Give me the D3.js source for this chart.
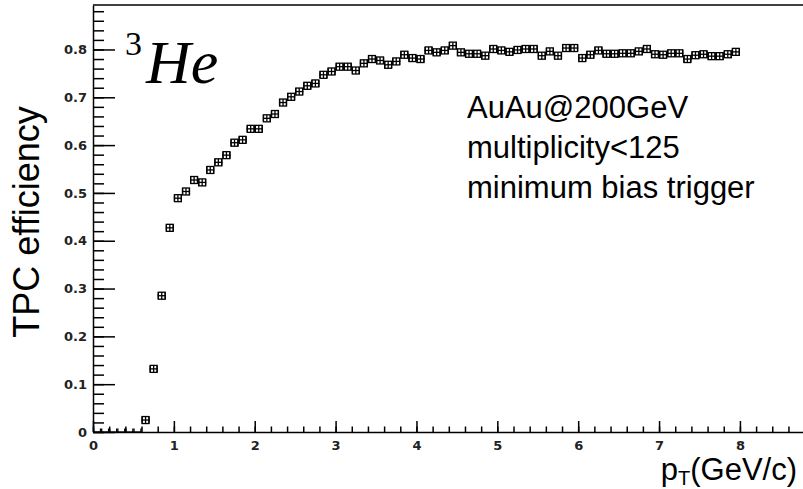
<!DOCTYPE html>
<html>
<head>
<meta charset="utf-8">
<script src="https://cdn.jsdelivr.net/npm/d3@7"></script>
<style>
  body { margin: 0; background: #fff; }
</style>
</head>
<body>
<div id="chart"></div>
<script>
// bin low edges in pT (GeV/c), bin width 0.1
const ptLow = [
  0.0, 0.1, 0.2, 0.3, 0.4, 0.5, 0.6, 0.7, 0.8, 0.9,
  1.0, 1.1, 1.2, 1.3, 1.4, 1.5, 1.6, 1.7, 1.8, 1.9,
  2.0, 2.1, 2.2, 2.3, 2.4, 2.5, 2.6, 2.7, 2.8, 2.9,
  3.0, 3.1, 3.2, 3.3, 3.4, 3.5, 3.6, 3.7, 3.8, 3.9,
  4.0, 4.1, 4.2, 4.3, 4.4, 4.5, 4.6, 4.7, 4.8, 4.9,
  5.0, 5.1, 5.2, 5.3, 5.4, 5.5, 5.6, 5.7, 5.8, 5.9,
  6.0, 6.1, 6.2, 6.3, 6.4, 6.5, 6.6, 6.7, 6.8, 6.9,
  7.0, 7.1, 7.2, 7.3, 7.4, 7.5, 7.6, 7.7, 7.8, 7.9
];
const binWidth = 0.1;

const efficiency = [
  0, 0, 0, 0, 0, 0, 0.025, 0.132, 0.285, 0.427,
  0.489, 0.503, 0.527, 0.522, 0.548, 0.564, 0.579, 0.605, 0.611, 0.634,
  0.634, 0.656, 0.665, 0.689, 0.701, 0.712, 0.724, 0.729, 0.747, 0.754,
  0.764, 0.764, 0.756, 0.771, 0.780, 0.777, 0.768, 0.775, 0.789, 0.782,
  0.780, 0.798, 0.794, 0.798, 0.808, 0.794, 0.791, 0.791, 0.787, 0.801,
  0.798, 0.795, 0.799, 0.801, 0.801, 0.787, 0.796, 0.787, 0.803, 0.803,
  0.782, 0.789, 0.798, 0.791, 0.791, 0.792, 0.792, 0.796, 0.801, 0.790,
  0.789, 0.792, 0.792, 0.780, 0.788, 0.790, 0.786, 0.786, 0.790, 0.795
];

const xTicks = [0, 1, 2, 3, 4, 5, 6, 7, 8];
const yTicks = [0, 0.1, 0.2, 0.3, 0.4, 0.5, 0.6, 0.7, 0.8];
const infoLines = ['AuAu@200GeV', 'multiplicity<125', 'minimum bias trigger'];

function draw(){
    let dimensions = {
        width: 803,
        height: 489,
        margin: { top: 5, bottom: 57, left: 93, right: 0 }
    }
    dimensions.ctrBottom = dimensions.height - dimensions.margin.bottom

    const svg = d3.select('#chart')
      .append('svg')
      .attr('width', dimensions.width)
      .attr('height', dimensions.height)
      .style('display', 'block')

    svg.append('rect')
      .attr('width', dimensions.width)
      .attr('height', dimensions.height)
      .attr('fill', '#fff')

    const xScale = d3.scaleLinear()
      .domain([0, 8.78])
      .range([dimensions.margin.left, dimensions.width])

    const yScale = d3.scaleLinear()
      .domain([0, 0.893])
      .range([dimensions.ctrBottom, dimensions.margin.top])

    // minor ticks
    const xMinor = d3.range(0, 8.78, 0.2)
    const yMinor = d3.range(0, 0.893, 0.02)

    svg.append('g')
      .attr('transform', `translate(0, ${dimensions.ctrBottom})`)
      .call(d3.axisBottom(xScale).tickValues(xMinor).tickSize(-5.5).tickSizeOuter(0).tickFormat(''))
      .call(g => g.select('.domain').remove())

    svg.append('g')
      .attr('transform', `translate(${dimensions.margin.left}, 0)`)
      .call(d3.axisLeft(yScale).tickValues(yMinor).tickSize(-11).tickSizeOuter(0).tickFormat(''))
      .call(g => g.select('.domain').remove())

    // major axes
    svg.append('g')
      .attr('transform', `translate(0, ${dimensions.ctrBottom})`)
      .call(d3.axisBottom(xScale).tickValues(xTicks).tickSize(-11).tickSizeOuter(0).tickPadding(9))

    svg.append('g')
      .attr('transform', `translate(${dimensions.margin.left}, 0)`)
      .call(d3.axisLeft(yScale).tickValues(yTicks).tickSize(-22).tickSizeOuter(0).tickPadding(6)
        .tickFormat(d => d === 0 ? '0' : d3.format('.1f')(d)))

    svg.selectAll('.tick line, .domain')
      .attr('stroke', '#000')
      .attr('stroke-width', 1.5)

    svg.selectAll('.tick text')
      .attr('font-family', 'DejaVu Sans')
      .attr('font-weight', 'bold')
      .attr('font-size', 13)
      .attr('fill', '#222')

    // top frame
    svg.append('line')
      .attr('x1', dimensions.margin.left)
      .attr('x2', dimensions.width)
      .attr('y1', dimensions.margin.top)
      .attr('y2', dimensions.margin.top)
      .attr('stroke', '#000')
      .attr('stroke-width', 1.5)

    // data
    svg.append('clipPath').attr('id', 'frame')
      .append('rect')
      .attr('x', dimensions.margin.left)
      .attr('y', dimensions.margin.top)
      .attr('width', dimensions.width - dimensions.margin.left)
      .attr('height', dimensions.ctrBottom - dimensions.margin.top)

    const bins = ptLow.map((d, i) => ({ lo: d, hi: d + binWidth, eff: efficiency[i] }))
    const half = 3.5

    const pts = svg.append('g')
      .attr('clip-path', 'url(#frame)')
      .attr('stroke', '#000')
      .attr('stroke-width', 1.3)
      .attr('fill', 'none')
      .selectAll('g')
      .data(bins)
      .join('g')

    pts.append('line')
      .attr('x1', d => xScale(d.lo))
      .attr('x2', d => xScale(d.hi))
      .attr('y1', d => yScale(d.eff))
      .attr('y2', d => yScale(d.eff))

    pts.append('line')
      .attr('x1', d => xScale(d.lo) + 0.6)
      .attr('x2', d => xScale(d.lo) + 0.6)
      .attr('y1', d => yScale(d.eff) - half)
      .attr('y2', d => yScale(d.eff) + half)

    pts.append('line')
      .attr('x1', d => xScale(d.hi) - 0.6)
      .attr('x2', d => xScale(d.hi) - 0.6)
      .attr('y1', d => yScale(d.eff) - half)
      .attr('y2', d => yScale(d.eff) + half)

    const filled = pts.filter(d => d.eff > 0)

    filled.append('rect')
      .attr('x', d => xScale(d.lo) + 0.6)
      .attr('width', d => xScale(d.hi) - xScale(d.lo) - 1.2)
      .attr('y', d => yScale(d.eff) - half)
      .attr('height', half * 2)

    filled.append('line')
      .attr('x1', d => xScale(d.lo + binWidth / 2))
      .attr('x2', d => xScale(d.lo + binWidth / 2))
      .attr('y1', d => yScale(d.eff) - half)
      .attr('y2', d => yScale(d.eff) + half)

    // labels
    svg.append('text')
      .attr('transform', 'translate(39, 222) rotate(-90)')
      .attr('text-anchor', 'middle')
      .attr('font-family', 'Liberation Sans')
      .attr('font-size', 36)
      .text('TPC efficiency')

    const xTitle = svg.append('text')
      .attr('x', 797)
      .attr('y', 480)
      .attr('text-anchor', 'end')
      .attr('font-family', 'Liberation Sans')
      .attr('font-size', 31)
    xTitle.append('tspan').text('p')
    xTitle.append('tspan').attr('font-size', 20).attr('dy', 5).text('T')
    xTitle.append('tspan').attr('dy', -5).text('(GeV/c)')

    svg.append('text')
      .attr('x', 125)
      .attr('y', 55)
      .attr('font-family', 'Liberation Serif')
      .attr('font-size', 34)
      .text('3')

    svg.append('text')
      .attr('x', 146)
      .attr('y', 83)
      .attr('font-family', 'Liberation Serif')
      .attr('font-style', 'italic')
      .attr('font-size', 62)
      .text('He')

    svg.append('g')
      .selectAll('text')
      .data(infoLines)
      .join('text')
      .attr('x', 467)
      .attr('y', (d, i) => 118 + i * 40)
      .attr('font-family', 'Liberation Sans')
      .attr('font-size', 31)
      .text(d => d)
}

draw();
</script>
</body>
</html>
